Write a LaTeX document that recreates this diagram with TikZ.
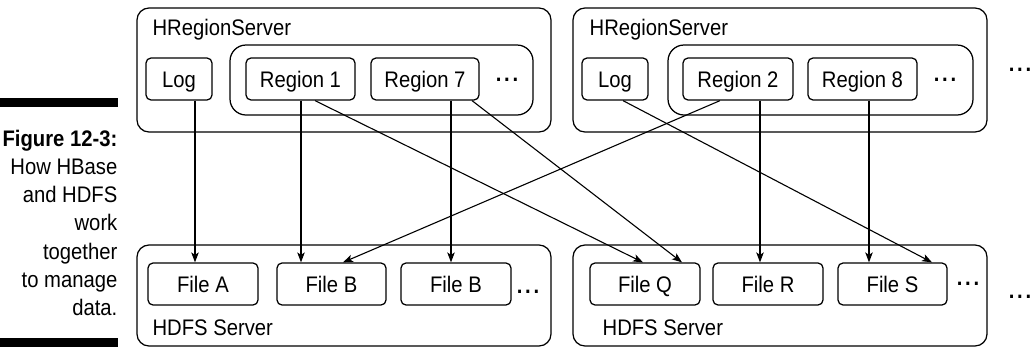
\documentclass[tikz,border=0pt]{standalone}
\usepackage{fontspec}
\setmainfont[FakeStretch=0.9]{Liberation Sans}
\usetikzlibrary{arrows.meta}
\newcommand{\lab}{\fontsize{22.5}{24}\selectfont}
\newcommand{\caplab}{\fontsize{22.5}{28}\selectfont}
\newcommand{\threedots}{{\bfseries .\kern2.8pt.\kern2.8pt.}}
\begin{document}
\begin{tikzpicture}[x=1pt,y=-1pt,
  line width=1.25pt,
  outerbox/.style={draw, rounded corners=12pt, inner sep=0pt, minimum width=414pt},
  holder/.style={draw, rounded corners=16pt, inner sep=0pt, minimum height=70pt},
  smallbox/.style={draw, rounded corners=5pt, inner sep=0pt, minimum height=42pt,
     font=\lab, text height=16pt, text depth=0pt},
  title/.style={anchor=base west, inner sep=0pt, font=\lab},
  dotsnode/.style={anchor=base, inner sep=0pt, font=\lab},
  capline/.style={anchor=base east, inner sep=0pt, font=\caplab},
  arr/.style={line width=1.1pt, -{Stealth[length=10pt,width=7.5pt,inset=2.5pt]}}
]
\useasboundingbox (0,0) rectangle (1030,349);

% caption
\fill (0,98) rectangle (118,107);
\fill (0,338) rectangle (118,347);
\node[capline, font=\caplab\bfseries] (c1) at (118,146) {Figure 12-3:};
\node[capline] (c2) at (118,174.3) {How HBase};
\node[capline] (c3) at (118,202.6) {and HDFS};
\node[capline] (c4) at (118,230.9) {work};
\node[capline] (c5) at (118,259.2) {together};
\node[capline] (c6) at (118,287.5) {to manage};
\node[capline] (c7) at (118,315.8) {data.};

% region servers
\node[outerbox, minimum height=124pt] (hrs1) at (344,70) {};
\node[outerbox, minimum height=124pt] (hrs2) at (780,70) {};
\node[title] (t1) at (152,35) {HRegionServer};
\node[title] (t2) at (589,35) {HRegionServer};
\node[holder, minimum width=303pt] (rc1) at (381.5,80) {};
\node[holder, minimum width=305pt] (rc2) at (820.5,80) {};
\node[smallbox, minimum width=66pt] (log1) at (179,79) {Log};
\node[smallbox, minimum width=66pt] (log2) at (615,79) {Log};
\node[smallbox, minimum width=109pt] (r1) at (300.5,79) {Region 1};
\node[smallbox, minimum width=108pt] (r7) at (425,79) {Region 7};
\node[smallbox, minimum width=110pt] (r2) at (738,79) {Region 2};
\node[smallbox, minimum width=109pt] (r8) at (862.5,79) {Region 8};
\node[dotsnode] (d1) at (507,81.5) {\threedots};
\node[dotsnode] (d2) at (945,81.5) {\threedots};
\node[dotsnode] (d3) at (1020,71.5) {\threedots};

% HDFS servers
\node[outerbox, minimum height=101pt] (hd1) at (344,295.5) {};
\node[outerbox, minimum height=101pt] (hd2) at (780,295.5) {};
\node[title] (t3) at (152,335) {HDFS Server};
\node[title] (t4) at (602,335) {HDFS Server};
\node[smallbox, minimum width=110pt] (fa) at (203,284) {File A};
\node[smallbox, minimum width=109pt] (fb1) at (331.5,284) {File B};
\node[smallbox, minimum width=110pt] (fb2) at (456,284) {File B};
\node[smallbox, minimum width=110pt] (fq) at (645,284) {File Q};
\node[smallbox, minimum width=110pt] (fr) at (768,284) {File R};
\node[smallbox, minimum width=109pt] (fs) at (892.5,284) {File S};
\node[dotsnode] (d4) at (528,293.5) {\threedots};
\node[dotsnode] (d5) at (968,285.5) {\threedots};
\node[dotsnode] (d6) at (1020,298.5) {\threedots};

% connectors
\draw[arr] ([xshift=16pt]log1.south) -- ([xshift=-8pt]fa.north);
\draw[arr] ([xshift=0.5pt]r1.south) -- ([xshift=-30.5pt]fb1.north);
\draw[arr] ([xshift=14.5pt]r1.south) -- ([xshift=-2pt]fq.north);
\draw[arr] ([xshift=26pt]r7.south) -- ([xshift=-5pt]fb2.north);
\draw[arr] ([xshift=47pt]r7.south) -- ([xshift=37pt]fq.north);
\draw[arr] ([xshift=-18pt]r2.south) -- ([xshift=11.5pt]fb1.north);
\draw[arr] ([xshift=8pt]log2.south) -- ([xshift=39.5pt]fs.north);
\draw[arr] ([xshift=22pt]r2.south) -- ([xshift=-8pt]fr.north);
\draw[arr] ([xshift=6.5pt]r8.south) -- ([xshift=-23.5pt]fs.north);
\end{tikzpicture}
\end{document}
